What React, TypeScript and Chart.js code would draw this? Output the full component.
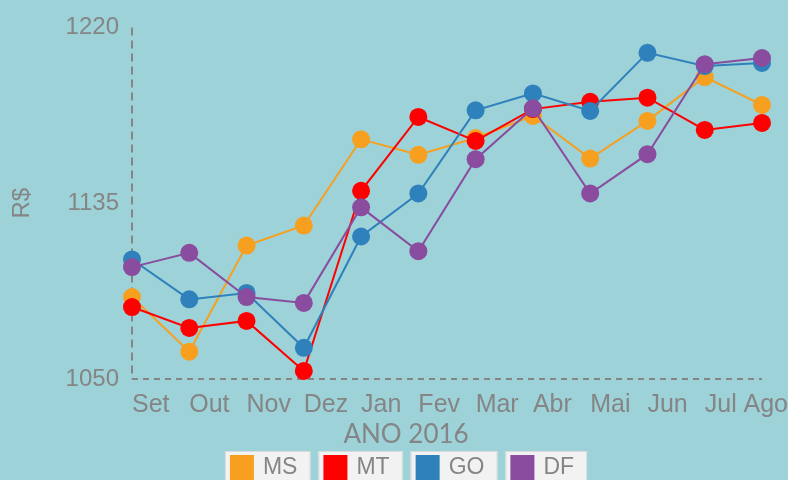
import React, { useEffect, useRef } from 'react';
import { Chart, registerables } from 'chart.js';

Chart.register(...registerables);

const months = ['Set', 'Out', 'Nov', 'Dez', 'Jan', 'Fev', 'Mar', 'Abr', 'Mai', 'Jun', 'Jul', 'Ago'];
const msValues = [1089.6, 1063.2, 1114.5, 1124.2, 1165.9, 1158.4, 1166.5, 1177.2, 1156.6, 1174.8, 1196.0, 1182.5];
const mtValues = [1084.8, 1074.7, 1078.1, 1053.9, 1141.0, 1176.7, 1165.1, 1180.5, 1184.0, 1186.0, 1170.4, 1173.8];
const goValues = [1107.8, 1088.5, 1091.6, 1065.1, 1118.9, 1139.7, 1179.9, 1188.1, 1179.6, 1207.7, 1201.3, 1202.8];
const dfValues = [1104.1, 1111.0, 1089.6, 1086.8, 1133.0, 1111.8, 1156.3, 1180.9, 1139.7, 1158.7, 1202.2, 1205.2];
const yTicks = [1050, 1135, 1220];
const seriesNames = ['MS', 'MT', 'GO', 'DF'];
const seriesValues = [msValues, mtValues, goValues, dfValues];
const seriesColors = ['#F7A01F', '#FF0000', '#2F81BC', '#894C9E'];
const xTitle = 'ANO 2016';
const yTitle = 'R$';

const BG = '#9cd2d8';
const GRAY = '#858585';
const SANS = '"Liberation Sans", Arial, sans-serif';
const LATO = 'Lato, "Open Sans", sans-serif';

const decorPlugin = {
  id: 'decor',
  beforeDraw(chart: any) {
    const ctx = chart.ctx;
    ctx.save();
    ctx.fillStyle = BG;
    ctx.fillRect(0, 0, chart.width, chart.height);
    ctx.restore();
  },
  beforeDatasetsDraw(chart: any) {
    const ctx = chart.ctx;
    const { left, right, top, bottom } = chart.chartArea;
    ctx.save();
    ctx.strokeStyle = GRAY;
    ctx.lineWidth = 2;
    ctx.setLineDash([8, 5]);
    ctx.beginPath();
    ctx.moveTo(left, top);
    ctx.lineTo(left, bottom);
    ctx.stroke();
    ctx.setLineDash([6, 5]);
    ctx.beginPath();
    ctx.moveTo(left, bottom);
    ctx.lineTo(right, bottom);
    ctx.stroke();
    ctx.restore();
  },
  afterDraw(chart: any) {
    const ctx = chart.ctx;
    const xs = chart.scales.x;
    ctx.save();
    ctx.font = `25px ${SANS}`;
    ctx.fillStyle = GRAY;
    // last x label, kept inside the canvas
    const last = months.length - 1;
    const items = xs.getLabelItems ? xs.getLabelItems() : null;
    const w = ctx.measureText(months[last]).width;
    const px = Math.min(xs.getPixelForValue(last), chart.width - w);
    let ly = xs.top + 26;
    let baseline = 'middle';
    if (items && items[last]) {
      ly = items[last].options.translation[1] + (items[last].textOffset || 0);
      baseline = items[last].options.textBaseline || 'middle';
    }
    ctx.textAlign = 'left';
    ctx.textBaseline = baseline;
    ctx.fillText(months[last], px, ly);

    // axis title
    const center = chart.width / 2 + 12;
    ctx.font = `26px ${LATO}`;
    ctx.textAlign = 'center';
    ctx.textBaseline = 'middle';
    ctx.fillText(xTitle, center, xs.top + 56);

    // legend
    ctx.font = `23px ${SANS}`;
    const boxSize = 24, padL = 5, gapBT = 9, padR = 13, gap = 8;
    const widths = seriesNames.map((n) => padL + boxSize + gapBT + ctx.measureText(n).width + padR);
    const total = widths.reduce((a, b) => a + b, 0) + gap * (seriesNames.length - 1);
    let x = center - total / 2;
    const top = xs.top + 72;
    seriesNames.forEach((name, i) => {
      const wi = widths[i];
      ctx.fillStyle = '#f2f2f2';
      ctx.fillRect(x, top, wi, 40);
      ctx.strokeStyle = '#d9dcdc';
      ctx.lineWidth = 1;
      ctx.strokeRect(x + 0.5, top + 0.5, wi - 1, 40);
      ctx.fillStyle = seriesColors[i];
      ctx.fillRect(x + padL, top + 4, boxSize, boxSize + 1);
      ctx.fillStyle = GRAY;
      ctx.textAlign = 'left';
      ctx.textBaseline = 'middle';
      ctx.fillText(name, x + padL + boxSize + gapBT, top + 17);
      x += wi + gap;
    });
    ctx.restore();
  },
};

export default function App() {
  const ref = useRef<HTMLCanvasElement | null>(null);

  useEffect(() => {
    if (!ref.current) return;
    const chart = new Chart(ref.current, {
      type: 'line',
      data: {
        labels: months,
        datasets: seriesNames.map((name, i) => ({
          label: name,
          data: seriesValues[i],
          borderColor: seriesColors[i],
          backgroundColor: seriesColors[i],
          pointBackgroundColor: seriesColors[i],
          pointBorderColor: seriesColors[i],
          borderWidth: 2,
          pointRadius: 9,
          pointBorderWidth: 0,
          tension: 0,
          fill: false,
          clip: false as any,
          order: seriesNames.length - 1 - i,
        })),
      },
      options: {
        animation: false,
        responsive: false,
        devicePixelRatio: 1,
        layout: { padding: { top: 26, right: 26, bottom: 0, left: 0 } },
        plugins: {
          legend: { display: false },
          title: { display: false },
          tooltip: { enabled: false },
        },
        scales: {
          x: {
            type: 'category',
            offset: false,
            grid: { display: false, drawTicks: false },
            border: { display: false },
            ticks: {
              align: 'start',
              maxRotation: 0,
              minRotation: 0,
              autoSkip: false,
              padding: 11,
              font: { family: SANS, size: 25 },
              color: (c: any) => (c.index === months.length - 1 ? 'rgba(0,0,0,0)' : GRAY),
            },
            afterFit: (s: any) => {
              s.height = 101;
              s.paddingRight = 0;
              s.paddingLeft = 0;
            },
          },
          y: {
            min: 1050,
            max: 1220,
            grid: { display: false, drawTicks: false },
            border: { display: false },
            afterBuildTicks: (s: any) => {
              s.ticks = yTicks.map((v) => ({ value: v }));
            },
            ticks: {
              padding: 13,
              font: { family: SANS, size: 24 },
              color: GRAY,
              callback: (v: any) => String(v),
            },
            title: {
              display: true,
              text: yTitle,
              color: GRAY,
              font: { family: SANS, size: 24 },
              padding: { top: 8, bottom: 0 },
            },
            afterFit: (s: any) => {
              s.width = 132;
            },
          },
        },
      },
      plugins: [decorPlugin],
    });
    return () => chart.destroy();
  }, []);

  return (
    <div style={{ position: 'fixed', left: 0, top: 0, width: 788, height: 480, background: BG, overflow: 'hidden' }}>
      <canvas ref={ref} width={788} height={480} style={{ display: 'block' }} />
    </div>
  );
}
